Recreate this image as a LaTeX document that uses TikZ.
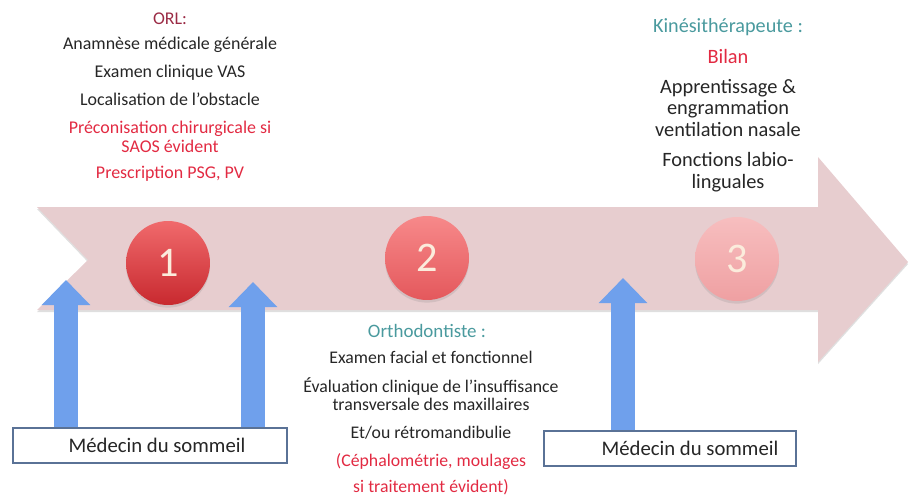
\documentclass[tikz,border=0pt]{standalone}
\usepackage{fontspec}
\setmainfont{Carlito}
\usetikzlibrary{positioning,arrows.meta,shadows}
\definecolor{bandpink}{HTML}{E7CDCF}
\definecolor{inkgray}{HTML}{262626}
\definecolor{alertred}{HTML}{E22A42}
\definecolor{orlred}{HTML}{9B2B45}
\definecolor{tealhead}{HTML}{4A9A9E}
\definecolor{arrowblue}{HTML}{6FA0EC}
\definecolor{boxblue}{HTML}{5A7296}
\definecolor{ballnum}{HTML}{FBECDC}
\definecolor{ballAtop}{HTML}{F06A6C}
\definecolor{ballAbot}{HTML}{C8292F}
\definecolor{ballBtop}{HTML}{F7898A}
\definecolor{ballBbot}{HTML}{E4585C}
\definecolor{ballCtop}{HTML}{F7BEBF}
\definecolor{ballCbot}{HTML}{EFA0A2}

\begin{document}
\begin{tikzpicture}[x=0.02cm,y=-0.02cm,
    item/.style={font=\fontsize{10.2}{10.8}\selectfont,text=inkgray,align=center,inner sep=0pt,anchor=base},
    kine/.style={item,font=\fontsize{11.6}{12.2}\selectfont},
    ortho/.style={item,font=\fontsize{10.1}{9.8}\selectfont},
    warn/.style={text=alertred},
    phase/.style={circle,minimum size=1.68cm,inner sep=0pt,text=ballnum,font=\fontsize{24}{24}\selectfont,
                  drop shadow={opacity=0.2,shadow xshift=0pt,shadow yshift=-1.5pt}},
    medbox/.style={draw=boxblue,line width=0.9pt,fill=white,minimum height=0.7cm,
                   font=\fontsize{11.8}{12}\selectfont,text=inkgray},
    uparrow/.style={draw=arrowblue,line width=0.48cm,-{Triangle[width=0.94cm,length=0.5cm]}}]
    \useasboundingbox (0,0) rectangle (911,497);

    \fill[bandpink,drop shadow={opacity=0.25,shadow xshift=0pt,shadow yshift=-1.2pt}]
        (37,207) -- (818,207) -- (818,157) -- (908,262) -- (818,362)
        -- (818,310) -- (37,310) -- (88,260) -- cycle;

    \node (c1) [phase,top color=ballAtop,bottom color=ballAbot] at (168,263) {1};
    \node (c2) [phase,top color=ballBtop,bottom color=ballBbot] at (427,258) {2};
    \node (c3) [phase,top color=ballCtop,bottom color=ballCbot] at (737,259) {3};

    \node (orl)   [item,text=orlred] at (170,24)  {ORL:};
    \node (anam)  [item] at (170,49)  {Anamnèse médicale générale};
    \node (exam)  [item] at (170,77)  {Examen clinique VAS};
    \node (loc)   [item] at (170,105) {Localisation de l’obstacle};
    \node (chir)  [item,warn] at (170,152) {Préconisation chirurgicale si\\SAOS évident};
    \node (presc) [item,warn] at (170,178) {Prescription PSG, PV};

    \node (kin)   [kine,font=\fontsize{11.5}{12}\selectfont,text=tealhead] at (728,32) {Kinésithérapeute :};
    \node (bilan) [kine,warn] at (728,63)  {Bilan};
    \node (appr)  [kine] at (728,136) {Apprentissage \&\\engrammation\\ventilation nasale};
    \node (fonc)  [kine] at (728,188) {Fonctions labio-\\linguales};

    \node (orth)  [ortho,font=\fontsize{10.8}{11}\selectfont,text=tealhead] at (427,337) {Orthodontiste :};
    \node (facial)[ortho] at (431,363) {Examen facial et fonctionnel};
    \node (eval)  [ortho] at (431,410) {Évaluation clinique de l’insuffisance\\transversale des maxillaires};
    \node (retro) [ortho] at (431,438) {Et/ou rétromandibulie};
    \node (ceph)  [ortho,warn] at (431,466) {(Céphalométrie, moulages};
    \node (trait) [ortho,warn] at (431,492) {si traitement évident)};

    \node (med1) [medbox,minimum width=5.48cm] at (150,445.5) {\hspace*{0.28cm}Médecin du sommeil};
    \node (med2) [medbox,minimum width=5.04cm] at (670,448.5) {\hspace*{0.8cm}Médecin du sommeil};

    \coordinate (t1) at (66,280);
    \coordinate (t2) at (253,282);
    \coordinate (t3) at (623,278);
    \draw[uparrow] (med1.north -| t1) -- (t1);
    \draw[uparrow] (med1.north -| t2) -- (t2);
    \draw[uparrow] (med2.north -| t3) -- (t3);
\end{tikzpicture}
\end{document}
